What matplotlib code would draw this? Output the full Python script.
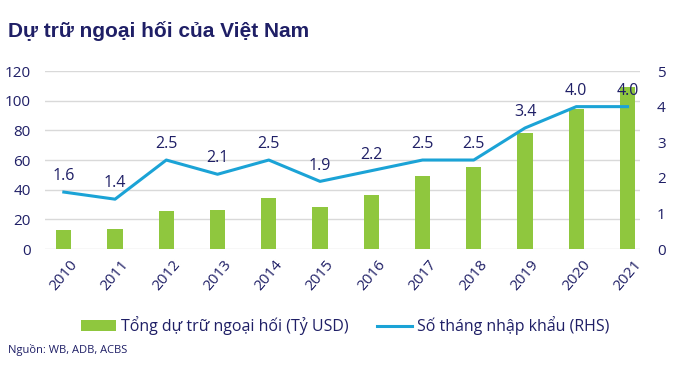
import matplotlib.pyplot as plt
import numpy as np

plt.rcParams['font.family'] = ['Open Sans', 'DejaVu Sans']

years = ['2010', '2011', '2012', '2013', '2014', '2015',
         '2016', '2017', '2018', '2019', '2020', '2021']
reserves = [12.5, 13.5, 25.5, 26, 34.5, 28.5, 36.5, 49, 55.5, 78, 94.5, 109]
import_months = [1.6, 1.4, 2.5, 2.1, 2.5, 1.9, 2.2, 2.5, 2.5, 3.4, 4.0, 4.0]

navy = '#1f1f66'
green = '#8fc73e'
blue = '#1ba3d6'

fig = plt.figure(figsize=(6.9, 3.7), dpi=100)
ax = fig.add_axes([0.065, 0.327, 0.863, 0.481])
ax2 = ax.twinx()

x = np.arange(len(years))
bars = ax.bar(x, reserves, width=0.3, color=green, zorder=2,
              label='Tổng dự trữ ngoại hối (Tỷ USD)')
line, = ax2.plot(x, import_months, color=blue, lw=2.2, zorder=3,
                 label='Số tháng nhập khẩu (RHS)')
for xi, v in zip(x, import_months):
    ax2.text(xi, v + 0.22, f'{v:.1f}', ha='center', va='bottom',
             fontsize=11.5, color=navy)

ax.set_ylim(0, 120)
ax.set_yticks(range(0, 121, 20))
ax2.set_ylim(0, 5)
ax2.set_yticks(range(0, 6))
ax.set_xlim(-0.37, 11.25)
ax.set_xticks(x)
ax.set_xticklabels(years, rotation=50, fontsize=11, color=navy)
ax.grid(axis='y', color='#d9d9d9', lw=1, zorder=0)
ax.set_axisbelow(True)

for a in (ax, ax2):
    for s in a.spines.values():
        s.set_visible(False)
    a.tick_params(length=0, labelsize=11, colors=navy)
ax.tick_params(axis='y', pad=10)
ax.tick_params(axis='x', pad=6)
ax2.tick_params(axis='y', pad=12)

fig.text(0.012, 0.9, 'Dự trữ ngoại hối của Việt Nam', fontsize=15,
         fontweight='bold', color=navy, family=['Liberation Sans', 'DejaVu Sans'])
fig.legend(handles=[bars, line], loc='center', bbox_to_anchor=(0.5, 0.12),
           ncol=2, frameon=False, fontsize=11.5, labelcolor=navy,
           handlelength=2.2, handleheight=0.6, columnspacing=1.8, handletextpad=0.3)
fig.text(0.012, 0.045, 'Nguồn: WB, ADB, ACBS', fontsize=8, color=navy)

fig.savefig('out.png', dpi=100)
